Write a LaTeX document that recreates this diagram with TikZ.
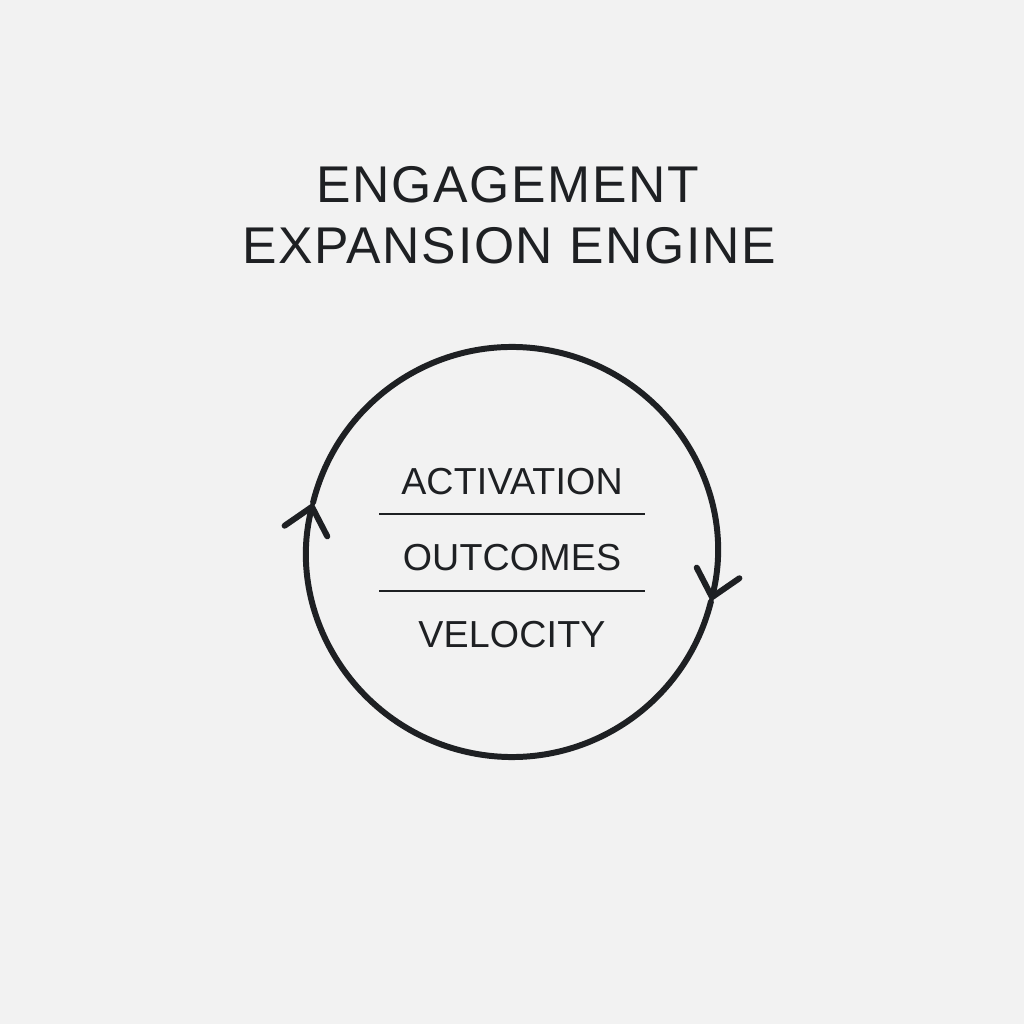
\documentclass[tikz,border=0pt]{standalone}
\usepackage{fontspec}
\setmainfont{Liberation Sans}
\newfontfamily\titlefont[LetterSpace=3.2]{Liberation Sans}
\newfontfamily\labelfont[LetterSpace=0.4]{Liberation Sans}
\usetikzlibrary{arrows.meta,calc}
\definecolor{bg}{HTML}{F2F2F2}
\definecolor{ink}{HTML}{1E2023}
\tikzset{
  titletext/.style={anchor=base, text=ink, inner sep=0pt, font=\titlefont\fontsize{14.7pt}{16pt}\selectfont},
  labeltext/.style={anchor=base, text=ink, inner sep=0pt, font=\labelfont\fontsize{10.7pt}{12pt}\selectfont},
  divider/.style={draw=ink, line width=0.6pt},
  cycle/.style={draw=ink, line width=1.7pt, line cap=round,
    -{Straight Barb[length=2.5mm, width=4.4mm, line cap=round]}}
}
\begin{document}
\begin{tikzpicture}
\fill[bg] (0,0) rectangle (10.24,10.24);
\useasboundingbox (0,0) rectangle (10.24,10.24);
% title
\node[titletext] (t1) at (5.08,8.21) {ENGAGEMENT};
\node[titletext] (t2) at (5.09,7.60) {EXPANSION ENGINE};
% circle
\coordinate (c) at (5.12,4.72);
\draw[cycle] ($(c)+(346:2.05)$) arc[start angle=346, end angle=166, radius=2.05];
\draw[cycle] ($(c)+(166:2.05)$) arc[start angle=166, end angle=-14, radius=2.05];
% labels
\node[labeltext] (a) at (5.12,5.29) {ACTIVATION};
\node[labeltext] (o) at (5.12,4.53) {OUTCOMES};
\node[labeltext] (v) at (5.12,3.76) {VELOCITY};
\coordinate (l1a) at (3.79,5.10);
\coordinate (l1b) at (6.45,5.10);
\coordinate (l2a) at (3.79,4.33);
\coordinate (l2b) at (6.45,4.33);
\draw[divider] (l1a) -- (l1b);
\draw[divider] (l2a) -- (l2b);
\end{tikzpicture}
\end{document}
